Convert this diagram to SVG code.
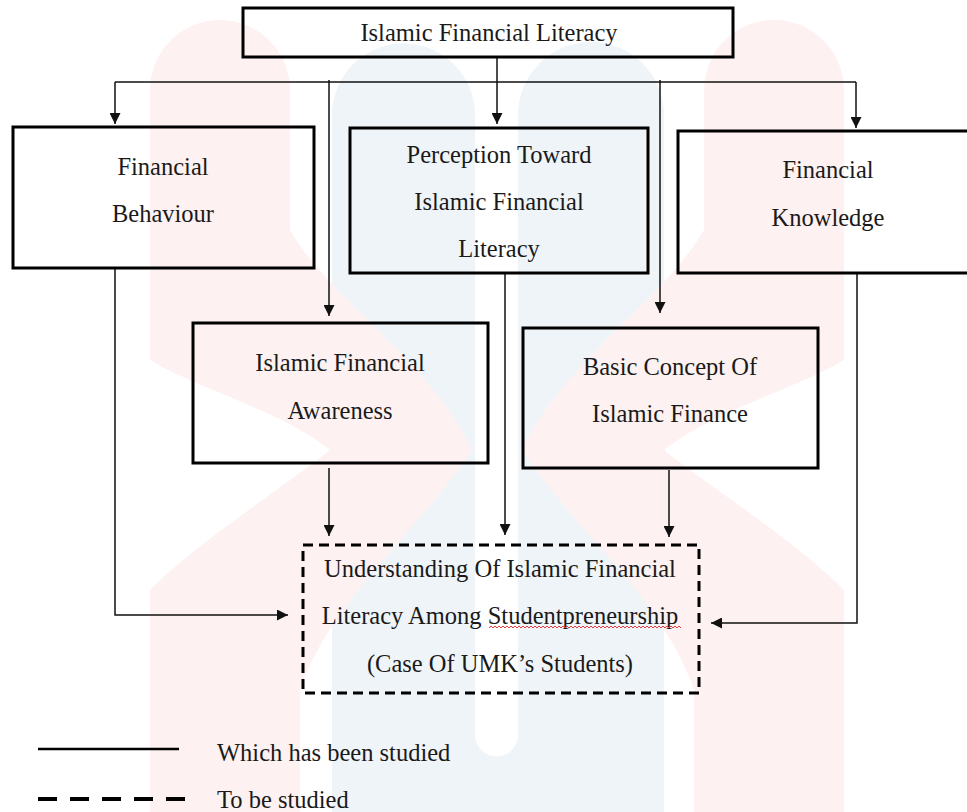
<svg xmlns="http://www.w3.org/2000/svg" width="967" height="812" viewBox="0 0 967 812">
<style>
text{font-family:"Liberation Serif","Times New Roman",serif;font-size:24.5px;fill:#1a1a1a;text-anchor:middle}
.box{fill:none;stroke:#000;stroke-width:3}
.dash{fill:none;stroke:#000;stroke-width:3;stroke-dasharray:10 6}
.conn{fill:none;stroke:#111;stroke-width:1.5}
.wm-p{fill:#fdf1f1}
.wm-b{fill:#eff4f8}
</style>
<defs>
<marker id="ah" markerUnits="userSpaceOnUse" markerWidth="11" markerHeight="11" refX="11" refY="5.5" orient="auto">
<path d="M0,0 L11,5.5 L0,11 Z" fill="#111"/>
</marker>
<path id="pinkL" d="M150,90 A70,70 0 0 1 290,90 L290,230 C330,300 430,360 472,450 C420,530 330,600 300,690 L300,812 L150,812 L150,590 C200,540 280,490 330,450 C280,410 200,390 150,360 Z"/>
</defs>
<rect width="967" height="812" fill="#fff"/>
<g id="watermark">
<path class="wm-b" d="M332,812 L332,115 A71.5,71.5 0 0 1 475,115 L475,735 A21.5,21.5 0 0 0 518,735 L518,115 A73,73 0 0 1 664,115 L664,812 Z"/>
<use href="#pinkL" class="wm-p"/>
<use href="#pinkL" class="wm-p" transform="matrix(-1 0 0 1 994 0)"/>
</g>
<g id="connectors">
<path class="conn" d="M497,57 L497,124" marker-end="url(#ah)"/>
<path class="conn" d="M115,82 L856,82"/>
<path class="conn" d="M115,82 L115,124" marker-end="url(#ah)"/>
<path class="conn" d="M856,82 L856,128" marker-end="url(#ah)"/>
<path class="conn" d="M329,80 L329,316" marker-end="url(#ah)"/>
<path class="conn" d="M660,80 L660,313" marker-end="url(#ah)"/>
<path class="conn" d="M115,268 L115,615 L288,615" marker-end="url(#ah)"/>
<path class="conn" d="M857,273 L857,623 L711,623" marker-end="url(#ah)"/>
<path class="conn" d="M505,273 L505,535" marker-end="url(#ah)"/>
<path class="conn" d="M329,468 L329,536" marker-end="url(#ah)"/>
<path class="conn" d="M669,470 L669,537" marker-end="url(#ah)"/>
</g>
<g id="n-top">
<rect class="box" x="243" y="8" width="490" height="49"/>
<text x="489" y="41">Islamic Financial Literacy</text>
</g>
<g id="n-behaviour">
<rect class="box" x="13" y="127" width="301" height="141"/>
<text x="163" y="175">Financial</text>
<text x="163" y="222">Behaviour</text>
</g>
<g id="n-perception">
<rect class="box" x="350" y="128" width="298" height="145"/>
<text x="499" y="163">Perception Toward</text>
<text x="499" y="210">Islamic Financial</text>
<text x="499" y="257">Literacy</text>
</g>
<g id="n-knowledge">
<rect class="box" x="678" y="131" width="300" height="142"/>
<text x="828" y="178">Financial</text>
<text x="828" y="226">Knowledge</text>
</g>
<g id="n-awareness">
<rect class="box" x="193" y="323" width="295" height="140"/>
<text x="340" y="371">Islamic Financial</text>
<text x="340" y="419">Awareness</text>
</g>
<g id="n-basic">
<rect class="box" x="523" y="328" width="295" height="140"/>
<text x="670" y="375">Basic Concept Of</text>
<text x="670" y="422">Islamic Finance</text>
</g>
<g id="n-understanding">
<rect class="dash" x="303" y="545" width="396" height="148"/>
<text x="500" y="577">Understanding Of Islamic Financial</text>
<text x="500" y="624">Literacy Among Studentpreneurship</text>
<text x="500" y="672">(Case Of UMK’s Students)</text>
<path d="M489,628 l2,-2 l2,2 l2,-2 l2,2 l2,-2 l2,2 l2,-2 l2,2 l2,-2 l2,2 l2,-2 l2,2 l2,-2 l2,2 l2,-2 l2,2
 l2,-2 l2,2 l2,-2 l2,2 l2,-2 l2,2 l2,-2 l2,2 l2,-2 l2,2 l2,-2 l2,2 l2,-2 l2,2 l2,-2 l2,2
 l2,-2 l2,2 l2,-2 l2,2 l2,-2 l2,2 l2,-2 l2,2 l2,-2 l2,2 l2,-2 l2,2 l2,-2 l2,2 l2,-2 l2,2
 l2,-2 l2,2 l2,-2 l2,2 l2,-2 l2,2 l2,-2 l2,2 l2,-2 l2,2 l2,-2 l2,2 l2,-2 l2,2 l2,-2 l2,2
 l2,-2 l2,2 l2,-2 l2,2 l2,-2 l2,2 l2,-2 l2,2 l2,-2 l2,2 l2,-2 l2,2 l2,-2 l2,2 l2,-2 l2,2
 l2,-2 l2,2 l2,-2 l2,2 l2,-2 l2,2 l2,-2 l2,2 l2,-2 l2,2 l2,-2 l2,2 l2,-2 l2,2 l2,-2 l2,2" fill="none" stroke="#e23b3b" stroke-width="1"/>
</g>
<g id="legend">
<line x1="38" y1="749" x2="179" y2="749" stroke="#000" stroke-width="2.5"/>
<text x="217" y="761" style="text-anchor:start">Which has been studied</text>
<line x1="38" y1="799" x2="185" y2="799" stroke="#000" stroke-width="4" stroke-dasharray="19 13"/>
<text x="217" y="808" style="text-anchor:start">To be studied</text>
</g>
</svg>
